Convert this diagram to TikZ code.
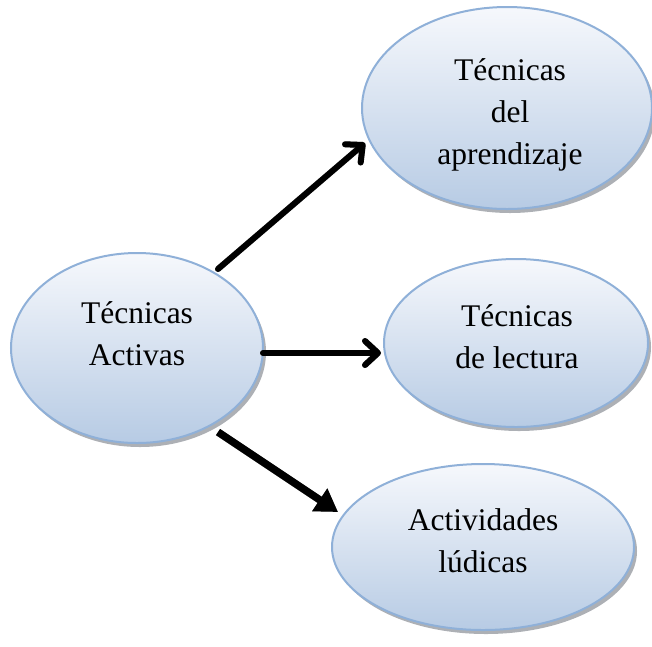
\documentclass[tikz,border=0pt]{standalone}
\usepackage{fontspec}
\setmainfont{Liberation Serif}
\usetikzlibrary{shapes.geometric,shadows,arrows.meta}
\definecolor{elltop}{HTML}{F6F8FC}
\definecolor{ellbot}{HTML}{B7CBE4}
\definecolor{ellline}{HTML}{8FB0D8}
\definecolor{shadowgray}{HTML}{8A8F96}
\begin{document}
\begin{tikzpicture}[x=1pt,y=-1pt,
  bubble/.style={ellipse, draw=ellline, line width=2pt, inner sep=0pt,
    top color=elltop, bottom color=ellbot,
    drop shadow={shadow xshift=3pt, shadow yshift=-4pt, fill=shadowgray, opacity=0.7}},
  label/.style={font=\fontsize{31.5}{42}\selectfont, align=center, inner sep=0pt},
  barbarrow/.style={line width=6pt, line cap=round, -{Straight Barb[length=13pt,width=24pt,line cap=round,line join=round]}},
  triarrow/.style={line width=7.5pt, -{Triangle[length=22pt,width=26pt]}},
  arrowshadow/.style={draw=black!30, xshift=2pt, yshift=-3pt}
]
\useasboundingbox (0,0) rectangle (652,646);
% ellipses
\node[bubble, minimum width=252pt, minimum height=190pt] (L) at (137,348) {};
\node[bubble, minimum width=290pt, minimum height=202pt] (T) at (507,108) {};
\node[bubble, minimum width=264pt, minimum height=168pt] (M) at (516,343) {};
\node[bubble, minimum width=302pt, minimum height=166pt] (B) at (483,547) {};
% texts
\node[label] (Lt) at (137,334) {Técnicas\\Activas};
\node[label] (Tt) at (510,115) {Técnicas\\del\\aprendizaje};
\node[label] (Mt) at (517,337) {Técnicas\\de lectura};
\node[label] (Bt) at (483,541) {Actividades\\lúdicas};
% connector end points
\coordinate (a1s) at (218,269);
\coordinate (a1e) at (365,143);
\coordinate (a2s) at (263,353);
\coordinate (a2e) at (381,353);
\coordinate (a3s) at (218,432);
\coordinate (a3e) at (338,512);
% shadows of arrows
\begin{scope}[arrowshadow]
\draw[barbarrow, draw=black!30] (a1s) -- (a1e);
\draw[barbarrow, draw=black!30] (a2s) -- (a2e);
\draw[triarrow, draw=black!30, fill=black!30] (a3s) -- (a3e);
\end{scope}
% arrows
\draw[barbarrow] (a1s) -- (a1e);
\draw[barbarrow] (a2s) -- (a2e);
\draw[triarrow] (a3s) -- (a3e);
\end{tikzpicture}
\end{document}
